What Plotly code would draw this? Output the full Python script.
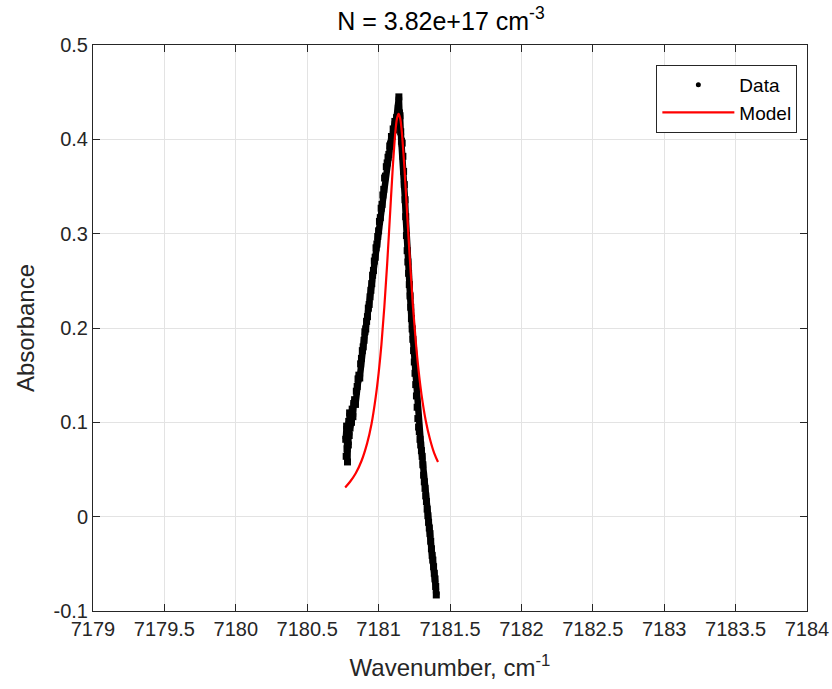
import plotly.graph_objects as go

data_x = [7180.770, 7180.773, 7180.776, 7180.779, 7180.782, 7180.785, 7180.788, 7180.791, 7180.794, 7180.797,
          7180.800, 7180.805, 7180.810, 7180.815, 7180.820, 7180.826, 7180.832, 7180.838, 7180.844, 7180.850,
          7180.856, 7180.862, 7180.868, 7180.874, 7180.880, 7180.886, 7180.892, 7180.898, 7180.904, 7180.910,
          7180.916, 7180.922, 7180.928, 7180.934, 7180.940, 7180.946, 7180.952, 7180.958, 7180.964, 7180.970,
          7180.976, 7180.982, 7180.988, 7180.994, 7181.000, 7181.006, 7181.012, 7181.018, 7181.024, 7181.030,
          7181.036, 7181.042, 7181.048, 7181.054, 7181.060, 7181.066, 7181.072, 7181.078, 7181.084, 7181.090,
          7181.096, 7181.102, 7181.108, 7181.114, 7181.120, 7181.126, 7181.132, 7181.138, 7181.142, 7181.146,
          7181.150, 7181.155, 7181.160, 7181.165, 7181.170, 7181.175, 7181.180, 7181.185, 7181.190, 7181.195,
          7181.200, 7181.205, 7181.210, 7181.215, 7181.220, 7181.225, 7181.230, 7181.235, 7181.240, 7181.245,
          7181.250, 7181.255, 7181.260, 7181.265, 7181.270, 7181.275, 7181.280, 7181.285, 7181.290, 7181.295,
          7181.300, 7181.305, 7181.310, 7181.315, 7181.320, 7181.325, 7181.330, 7181.335, 7181.340, 7181.345,
          7181.350, 7181.355, 7181.360, 7181.365, 7181.370, 7181.375, 7181.380, 7181.385, 7181.390, 7181.395,
          7181.400, 7181.404]
data_y = [0.082, 0.064, 0.096, 0.072, 0.058, 0.088, 0.076, 0.101, 0.086, 0.110,
          0.094, 0.108, 0.100, 0.114, 0.106, 0.120, 0.124, 0.119, 0.133, 0.138,
          0.146, 0.150, 0.147, 0.162, 0.168, 0.176, 0.180, 0.187, 0.196, 0.199,
          0.207, 0.212, 0.221, 0.225, 0.233, 0.240, 0.247, 0.256, 0.261, 0.271,
          0.275, 0.285, 0.289, 0.297, 0.303, 0.313, 0.317, 0.327, 0.331, 0.341,
          0.347, 0.359, 0.361, 0.371, 0.375, 0.381, 0.384, 0.393, 0.395, 0.403,
          0.403, 0.411, 0.410, 0.419, 0.415, 0.423, 0.424, 0.433, 0.445, 0.428,
          0.425, 0.408, 0.398, 0.396, 0.382, 0.366, 0.352, 0.336, 0.318, 0.298,
          0.282, 0.270, 0.258, 0.246, 0.234, 0.222, 0.210, 0.199, 0.188, 0.176,
          0.164, 0.152, 0.140, 0.128, 0.116, 0.104, 0.095, 0.090, 0.082, 0.076,
          0.070, 0.064, 0.055, 0.044, 0.037, 0.030, 0.022, 0.016, 0.008, 0.001,
          -0.006, -0.012, -0.018, -0.026, -0.034, -0.041, -0.046, -0.053, -0.060, -0.066,
          -0.074, -0.083]

# Model curve
model_x = [7180.766, 7180.80, 7180.84, 7180.88, 7180.92, 7180.95, 7180.98, 7181.00, 7181.02, 7181.04,
           7181.06, 7181.08, 7181.10, 7181.12, 7181.13, 7181.14, 7181.15, 7181.16, 7181.18, 7181.20,
           7181.22, 7181.24, 7181.26, 7181.28, 7181.30, 7181.33, 7181.36, 7181.39, 7181.416]
model_y = [0.031, 0.037, 0.046, 0.059, 0.078, 0.098, 0.127, 0.152, 0.183, 0.222,
           0.268, 0.320, 0.372, 0.412, 0.423, 0.427, 0.423, 0.412, 0.372, 0.321,
           0.270, 0.224, 0.186, 0.155, 0.130, 0.102, 0.082, 0.067, 0.058]

x_ticks = [7179, 7179.5, 7180, 7180.5, 7181, 7181.5, 7182, 7182.5, 7183, 7183.5, 7184]
y_ticks = [-0.1, 0, 0.1, 0.2, 0.3, 0.4, 0.5]

FONT = "Liberation Sans, Arial, sans-serif"
AX = "#262626"

fig = go.Figure()
fig.add_trace(go.Scatter(
    x=data_x, y=data_y, mode="lines+markers",
    line=dict(color="black", width=6.5),
    marker=dict(color="black", size=7, symbol="square"),
    showlegend=False, name="Data"))
fig.add_trace(go.Scatter(
    x=[None], y=[None], mode="markers",
    marker=dict(color="black", size=5), name="Data"))
fig.add_trace(go.Scatter(
    x=model_x, y=model_y, mode="lines", line=dict(color="#ff0000", width=2.2, shape="spline"),
    name="Model"))

axis_common = dict(
    showline=True, linecolor=AX, linewidth=1, mirror="ticks",
    ticks="inside", ticklen=7, tickcolor=AX, tickwidth=1,
    showgrid=True, gridcolor="#e3e3e3", gridwidth=1, zeroline=False,
    tickfont=dict(family=FONT, size=20, color=AX), automargin=False,
)

fig.update_xaxes(range=[7179, 7184], tickvals=x_ticks,
                 ticktext=[("%g" % v) for v in x_ticks],
                 title=dict(text="Wavenumber, cm<sup>-1</sup>", font=dict(family=FONT, size=24, color=AX), standoff=20),
                 **axis_common)
fig.update_yaxes(range=[-0.1, 0.5], tickvals=y_ticks,
                 ticktext=["-0.1", "0", "0.1", "0.2", "0.3", "0.4", "0.5"],
                 title=dict(text="Absorbance", font=dict(family=FONT, size=24, color=AX), standoff=12),
                 **axis_common)

fig.update_layout(
    width=832, height=689,
    margin=dict(l=93, r=25, t=45, b=78),
    paper_bgcolor="white", plot_bgcolor="white",
    title=dict(text="N = 3.82e+17 cm<sup>-3</sup>", x=0.53, xanchor="center", y=0.982, yanchor="top",
               font=dict(family=FONT, size=25, color="black")),
    legend=dict(x=0.9865, xanchor="right", y=0.965, yanchor="top",
                bgcolor="white", bordercolor=AX, borderwidth=1,
                font=dict(family=FONT, size=19, color="black"),
                itemwidth=72, tracegroupgap=0),
    font=dict(family=FONT),
)

fig.write_html("out.html")
